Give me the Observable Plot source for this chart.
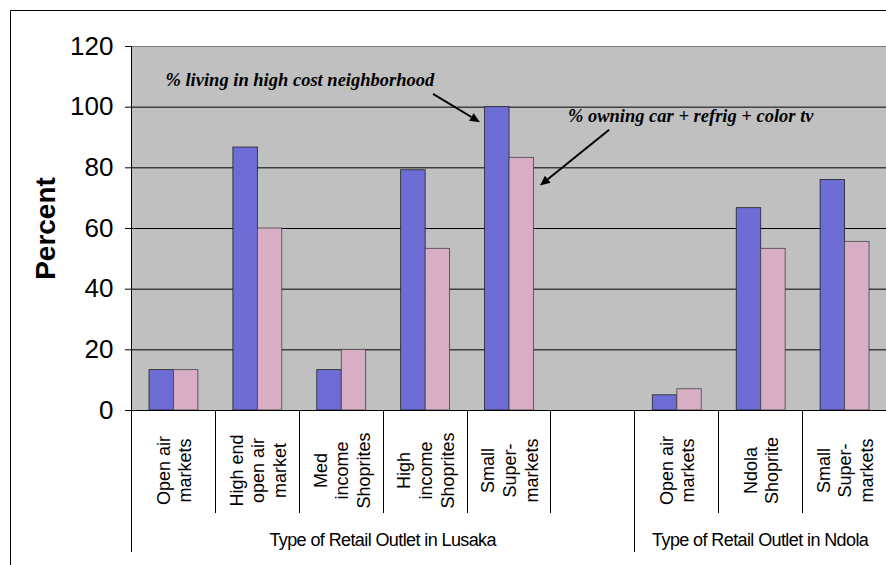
<!DOCTYPE html>
<html><head><meta charset="utf-8">
<script src="https://cdn.jsdelivr.net/npm/d3@7"></script>
<script src="https://cdn.jsdelivr.net/npm/@observablehq/plot@0.6"></script>
<style>
html,body{margin:0;padding:0;background:#fff;}
#chart{width:886px;height:565px;overflow:hidden;}
#chart svg{display:block;}
</style></head><body><div id="chart"></div>
<script>
// ---- data ----
const categoryKeys = ["L-open","L-highend","L-med","L-highinc","L-small","gap","N-open","N-shoprite","N-small"];
const categoryLabels = ["Open air\nmarkets","High end\nopen air\nmarket","Med\nincome\nShoprites","High\nincome\nShoprites","Small\nSuper-\nmarkets","","Open air\nmarkets","Ndola\nShoprite","Small\nSuper-\nmarkets"];
const highCostNeighborhood = [13.3, 86.7, 13.3, 79.2, 100, null, 5, 66.7, 76];
const ownCarFridgeTv = [13.3, 60, 20, 53.3, 83.3, null, 7, 53.3, 55.6];
const yTicks = [0, 20, 40, 60, 80, 100, 120];
const groupLabels = ["Type of Retail Outlet in Lusaka", "Type of Retail Outlet in Ndola"];
const groupFirst = ["L-open", "N-open"];
const groupLast = ["gap", "N-small"];
const seriesColors = ["#6d6dd5", "#d8aec5"];
const annotationLabels = ["% living in high cost neighborhood", "% owning car + refrig + color tv"];
const annotationKeys = ["L-open", "gap"];
const annotationValues = [106.9, 95.2];
// arrows: [category, fraction of band, value] -> [category, fraction, value]
const arrowFrom = [["L-highinc", 0.60, 104.2], ["gap", 0.70, 92.4]];
const arrowTo = [["L-small", 0.16, 94.9], ["L-small", 0.875, 74.0]];

const rows = categoryKeys.map((key, i) => ({key, label: categoryLabels[i], hc: highCostNeighborhood[i], own: ownCarFridgeTv[i]}));

function decorations(index, scales, values, dims) {
  const {x, y} = scales;
  const bw = x.bandwidth();
  const bottom = dims.height - dims.marginBottom;
  const g = d3.create("svg:g");
  // outer chart border (top & left)
  g.append("path").attr("d", `M10.5,${dims.height + 2}V10.5H${dims.width + 2}`)
    .attr("fill", "none").attr("stroke", "#000").attr("stroke-width", 1);
  // left axis line
  g.append("line").attr("x1", dims.marginLeft + 0.5).attr("x2", dims.marginLeft + 0.5)
    .attr("y1", dims.marginTop).attr("y2", bottom).attr("stroke", "#000");
  // category separators
  const bounds = categoryKeys.map(k => ({x: x(k), long: groupFirst.includes(k)}));
  bounds.push({x: x(categoryKeys[categoryKeys.length - 1]) + bw, long: true});
  for (const b of bounds) {
    g.append("line").attr("x1", Math.round(b.x) + 0.5).attr("x2", Math.round(b.x) + 0.5)
      .attr("y1", bottom).attr("y2", bottom + (b.long ? 142 : 103))
      .attr("stroke", "#000").attr("stroke-width", 1);
  }
  // group labels
  groupLabels.forEach((lab, i) => {
    const cx = (x(groupFirst[i]) + x(groupLast[i]) + bw) / 2;
    g.append("text").attr("x", cx).attr("y", bottom + 130).attr("dy", "0.35em")
      .attr("text-anchor", "middle").attr("font-size", 18).attr("letter-spacing", "-0.6px")
      .attr("fill", "#000").text(lab);
  });
  // annotation arrows
  arrowFrom.forEach((f, i) => {
    const t = arrowTo[i];
    const x1 = x(f[0]) + f[1] * bw, y1 = y(f[2]);
    const x2 = x(t[0]) + t[1] * bw, y2 = y(t[2]);
    const ang = Math.atan2(y2 - y1, x2 - x1);
    const L = 10, W = 4.5;
    const bx = x2 - L * Math.cos(ang), by = y2 - L * Math.sin(ang);
    g.append("line").attr("x1", x1).attr("y1", y1).attr("x2", bx).attr("y2", by)
      .attr("stroke", "#000").attr("stroke-width", 2);
    const px = -Math.sin(ang) * W, py = Math.cos(ang) * W;
    g.append("path").attr("d", `M${x2},${y2}L${bx + px},${by + py}L${bx - px},${by - py}Z`).attr("fill", "#000");
  });
  return g.node();
}

const chart = Plot.plot({
  width: 886,
  height: 565,
  marginLeft: 131,
  marginRight: 0,
  marginTop: 46,
  marginBottom: 155,
  x: {domain: categoryKeys, padding: 0, round: false, axis: null},
  y: {domain: [0, 120], axis: null},
  style: {fontFamily: "'Liberation Sans', Arial, sans-serif", background: "#fff", color: "#000", overflow: "visible"},
  marks: [
    Plot.frame({fill: "#c0c0c0", stroke: "#808080"}),
    Plot.ruleY(yTicks.filter(t => t > 0 && t < 120), {stroke: "#000", strokeWidth: 1}),
    Plot.barY(rows.filter(d => d.hc != null), {x: "key", y: "hc", fill: seriesColors[0], stroke: "#222", strokeWidth: 0.8, insetLeft: 18, insetRight: 41.4}),
    Plot.barY(rows.filter(d => d.own != null), {x: "key", y: "own", fill: seriesColors[1], stroke: "#444", strokeWidth: 0.8, insetLeft: 42.5, insetRight: 17}),
    Plot.ruleY([0], {stroke: "#000", strokeWidth: 1}),
    Plot.axisY(yTicks, {tickSize: 6, tickPadding: 12, fontSize: 26, label: null, stroke: "#000"}),
    Plot.text(["Percent"], {text: d => d, frameAnchor: "left", dx: -85, rotate: -90, fontWeight: "bold", fontSize: 28, textAnchor: "middle", lineAnchor: "middle", fill: "#000"}),
    Plot.text(rows, {x: "key", text: "label", frameAnchor: "bottom", dy: 60, rotate: -90, textAnchor: "middle", lineAnchor: "middle", lineHeight: 1.2, fontSize: 18, fill: "#000"}),
    Plot.text([0], {x: () => annotationKeys[0], y: () => annotationValues[0], text: () => annotationLabels[0], dx: -8, textAnchor: "start", lineAnchor: "bottom", fontFamily: "'Liberation Serif', 'Times New Roman', serif", fontWeight: "bold", fontStyle: "italic", fontSize: 18.5, fill: "#000"}),
    Plot.text([1], {x: () => annotationKeys[1], y: () => annotationValues[1], text: () => annotationLabels[1], dx: -25, textAnchor: "start", lineAnchor: "bottom", fontFamily: "'Liberation Serif', 'Times New Roman', serif", fontWeight: "bold", fontStyle: "italic", fontSize: 18.5, fill: "#000"}),
    decorations
  ]
});
document.getElementById("chart").appendChild(chart);
</script>
</body></html>
